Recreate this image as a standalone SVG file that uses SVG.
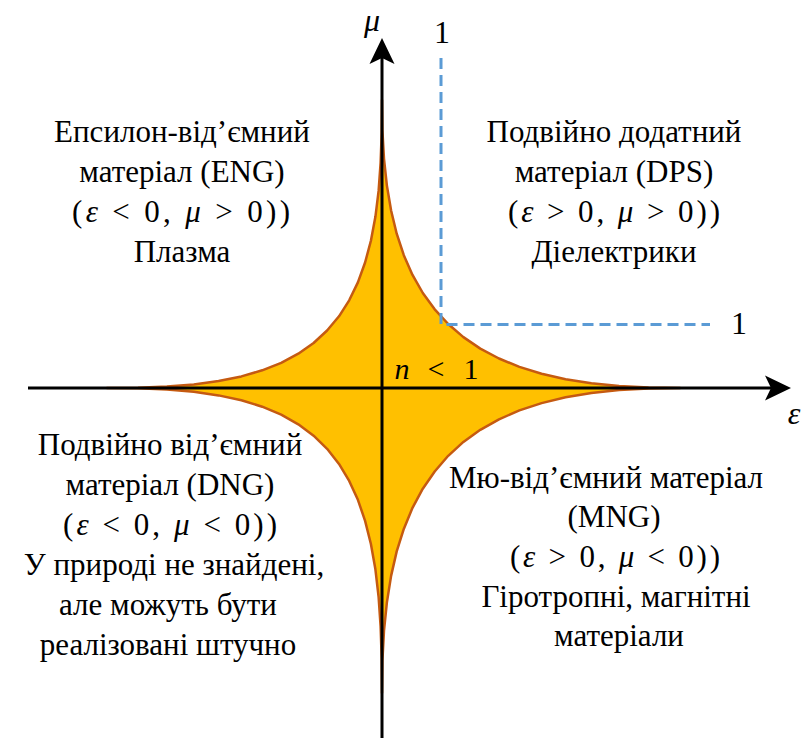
<svg xmlns="http://www.w3.org/2000/svg" width="803" height="738" viewBox="0 0 803 738">
<defs>
<marker id="ah" viewBox="-11 -13 28 26" markerWidth="28" markerHeight="26" refX="0" refY="0" orient="auto" markerUnits="userSpaceOnUse">
<path d="M16,0 L-10,-12.5 L-4,0 L-10,12.5 Z" fill="#000"/>
</marker>
</defs>
<g id="region-n-less-1">
<path d="M382,100 L382.4,130.3 384,158.8 386.9,185.6 391.1,210.5 396.7,233.7 403.8,255.2 412.5,274.9 422.8,293 434.7,309.3 448.2,324 463.4,337.1 480.3,348.6 499,358.5 519.4,366.9 541.6,373.8 565.6,379.2 591.4,383.3 619.1,386.1 648.6,387.6 680,388 648.6,388.5 619.1,390.1 591.4,393 565.6,397.3 541.6,403.1 519.4,410.4 499,419.3 480.3,429.8 463.4,441.9 448.2,455.8 434.7,471.5 422.8,488.7 412.5,507.8 403.8,528.9 396.7,551.4 391.1,575.9 386.9,602.4 384,630.7 382.4,660.9 382,693 381.7,658.6 380.6,626.5 378.6,596.8 375.4,569.3 370.9,544 365.1,520.9 357.9,499.8 349.2,480.9 339,463.9 327.1,448.8 313.6,435.7 298.3,424.3 281.2,414.7 262.2,406.7 241.4,400.3 218.6,395.4 193.8,391.8 166.9,389.5 138,388.3 107,388 138,387.7 166.9,386.6 193.8,384.4 218.6,381 241.4,376.4 262.2,370.3 281.2,362.8 298.3,353.7 313.6,343 327.1,330.5 339,316.3 349.2,300.3 357.9,282.4 365.1,262.5 370.9,240.7 375.4,216.8 378.6,190.9 380.6,162.8 381.7,132.5 Z" fill="#FFC000" stroke="#C55A11" stroke-width="2.5" stroke-linejoin="round"/>
</g>
<g id="connectors" stroke="#000" stroke-width="3" fill="none">
<line x1="28" y1="388" x2="775" y2="388" marker-end="url(#ah)"/>
<line x1="382" y1="738" x2="382" y2="54" marker-end="url(#ah)"/>
<polyline points="441,58 441,324.5 710,324.5" stroke="#5B9BD5" stroke-dasharray="11 6"/>
</g>
<g id="axis-labels" fill="#000" font-size="32" text-anchor="middle">
<text x="372" y="31" font-family="Liberation Serif, Times New Roman, serif" font-style="italic">μ</text>
<text x="794" y="424" font-family="Liberation Serif, Times New Roman, serif" font-style="italic">ε</text>
<text x="442" y="43" font-family="Liberation Serif, Times New Roman, serif">1</text>
<text x="739" y="334" font-family="Liberation Serif, Times New Roman, serif">1</text>
<text y="379" font-size="30" font-family="Liberation Serif, Times New Roman, serif"><tspan x="402" font-style="italic">n</tspan><tspan x="436">&lt;</tspan><tspan x="471">1</tspan></text>
</g>
<g id="eng" font-size="31" fill="#000" text-anchor="middle">
<text x="182" y="142" font-family="Liberation Serif, Times New Roman, serif">Епсилон-від’ємний</text>
<text x="182" y="182" font-family="Liberation Serif, Times New Roman, serif">матеріал (ENG)</text>
<text x="181" y="222" font-family="Liberation Serif, Times New Roman, serif" textLength="218" lengthAdjust="spacing">(<tspan font-style="italic">ε</tspan> &lt; 0,  <tspan font-style="italic">μ</tspan> &gt; 0))</text>
<text x="182" y="262" font-family="Liberation Serif, Times New Roman, serif">Плазма</text>
</g>
<g id="dps" font-size="31" fill="#000" text-anchor="middle">
<text x="614" y="142" font-family="Liberation Serif, Times New Roman, serif">Подвійно додатний</text>
<text x="614" y="182" font-family="Liberation Serif, Times New Roman, serif">матеріал (DPS)</text>
<text x="614" y="222" font-family="Liberation Serif, Times New Roman, serif" textLength="212" lengthAdjust="spacing">(<tspan font-style="italic">ε</tspan> &gt; 0,  <tspan font-style="italic">μ</tspan> &gt; 0))</text>
<text x="614" y="262" font-family="Liberation Serif, Times New Roman, serif">Діелектрики</text>
</g>
<g id="dng" font-size="31" fill="#000" text-anchor="middle">
<text x="170" y="455" font-family="Liberation Serif, Times New Roman, serif">Подвійно від’ємний</text>
<text x="170" y="495" font-family="Liberation Serif, Times New Roman, serif">матеріал (DNG)</text>
<text x="170" y="535" font-family="Liberation Serif, Times New Roman, serif" textLength="214" lengthAdjust="spacing">(<tspan font-style="italic">ε</tspan> &lt; 0,  <tspan font-style="italic">μ</tspan> &lt; 0))</text>
<text x="174" y="575" font-family="Liberation Serif, Times New Roman, serif">У природі не знайдені,</text>
<text x="168" y="615" font-family="Liberation Serif, Times New Roman, serif">але можуть бути</text>
<text x="168" y="655" font-family="Liberation Serif, Times New Roman, serif">реалізовані штучно</text>
</g>
<g id="mng" font-size="31" fill="#000" text-anchor="middle">
<text x="606" y="488" font-family="Liberation Serif, Times New Roman, serif">Мю-від’ємний матеріал</text>
<text x="614" y="527" font-family="Liberation Serif, Times New Roman, serif">(MNG)</text>
<text x="615" y="567" font-family="Liberation Serif, Times New Roman, serif" textLength="210" lengthAdjust="spacing">(<tspan font-style="italic">ε</tspan> &gt; 0,  <tspan font-style="italic">μ</tspan> &lt; 0))</text>
<text x="616" y="607" font-family="Liberation Serif, Times New Roman, serif">Гіротропні, магнітні</text>
<text x="619" y="646" font-family="Liberation Serif, Times New Roman, serif">матеріали</text>
</g>
</svg>
